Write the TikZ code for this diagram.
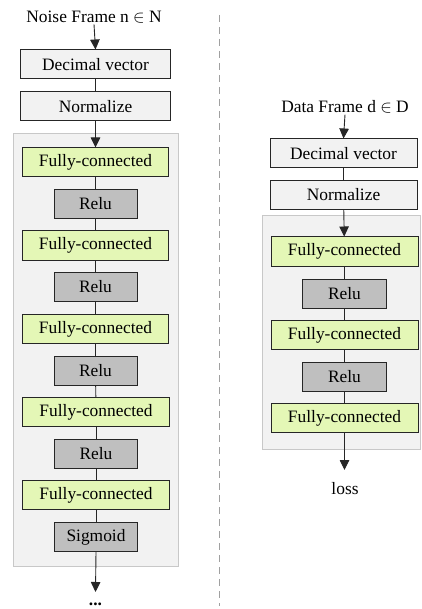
\documentclass[tikz,border=0pt]{standalone}
\usepackage{fontspec}
\setmainfont{Liberation Serif}
\usetikzlibrary{arrows.meta}
\definecolor{bgfill}{HTML}{F2F2F2}
\definecolor{bgline}{HTML}{C8C8C8}
\definecolor{fcfill}{HTML}{E4F7B6}
\definecolor{relufill}{HTML}{BFBFBF}
\definecolor{boxline}{HTML}{262626}
\definecolor{sepline}{HTML}{A0A0A0}
\tikzset{
  txt/.style={font=\fontsize{17.4}{20}\selectfont},
  basebox/.style={txt, draw=boxline, line width=1pt, inner sep=0pt, minimum height=29pt},
  plainbox/.style={basebox, fill=bgfill, minimum width=150pt},
  fcbox/.style={basebox, fill=fcfill, minimum width=146pt},
  relubox/.style={basebox, fill=relufill, minimum width=83pt},
  panel/.style={fill=bgfill, draw=bgline, line width=0.8pt},
  link/.style={draw=boxline, line width=0.9pt},
  arr/.style={link, -{Triangle[length=10pt,width=9.5pt]}},
}
\begin{document}
\begin{tikzpicture}[x=1pt,y=-1pt]
\useasboundingbox (0,0) rectangle (421,609);
% panels
\path[panel] (13,133) rectangle (178,566);
\path[panel] (262,215) rectangle (420,449);
% separator
\draw[sepline, line width=1pt, dash pattern=on 7pt off 5pt] (219,15) -- (219,606);
% ---------- left column ----------
\node[txt, inner sep=1pt] (ltitle) at (94,17) {Noise Frame n \ensuremath{\in} N};
\node[plainbox] (ldv) at (95.5,64.5) {Decimal vector};
\node[plainbox] (lnorm) at (95.5,106.5) {Normalize};
\node[fcbox] (lfc1) at (95.5,162.5) {Fully-connected};
\node[relubox] (lr1) at (95.5,204) {Relu};
\node[fcbox] (lfc2) at (95.5,245.5) {Fully-connected};
\node[relubox] (lr2) at (95.5,287) {Relu};
\node[fcbox] (lfc3) at (95.5,329) {Fully-connected};
\node[relubox] (lr3) at (95.5,370.5) {Relu};
\node[fcbox, minimum width=147pt] (lfc4) at (96,412) {Fully-connected};
\node[relubox] (lr4) at (96,453.5) {Relu};
\node[fcbox, minimum width=147pt] (lfc5) at (96,495) {Fully-connected};
\node[relubox] (lsig) at (96,537) {Sigmoid};
\coordinate (lend) at (95.5,592);
\node[txt, inner sep=0pt] (ldots) at (95.5,604) {\textbf{...}};
\draw[arr] (ltitle.south) -- (ldv.north);
\draw[link] (ldv) -- (lnorm);
\draw[arr] (lnorm) -- (lfc1);
\draw[link] (lfc1) -- (lr1);
\draw[link] (lr1) -- (lfc2);
\draw[link] (lfc2) -- (lr2);
\draw[link] (lr2) -- (lfc3);
\draw[link] (lfc3) -- (lr3);
\draw[link] (lr3) -- (lfc4);
\draw[link] (lfc4) -- (lr4);
\draw[link] (lr4) -- (lfc5);
\draw[link] (lfc5) -- (lsig);
\draw[arr] (lsig.south) -- (lend);
% ---------- right column ----------
\node[txt, inner sep=1pt] (rtitle) at (345,107) {Data Frame d \ensuremath{\in} D};
\node[plainbox, minimum width=147pt] (rdv) at (343.5,153.5) {Decimal vector};
\node[plainbox, minimum width=147pt] (rnorm) at (343.5,195) {Normalize};
\node[fcbox, minimum width=147pt] (rfc1) at (344.5,251.5) {Fully-connected};
\node[relubox, minimum width=84pt] (rr1) at (344.5,293.5) {Relu};
\node[fcbox, minimum width=147pt] (rfc2) at (344.5,335) {Fully-connected};
\node[relubox, minimum width=84pt] (rr2) at (344.5,376.5) {Relu};
\node[fcbox, minimum width=147pt] (rfc3) at (344.5,418) {Fully-connected};
\coordinate (rend) at (344.5,470);
\node[txt, inner sep=0pt] (rloss) at (345,489) {loss};
\draw[arr] (rtitle.south) -- (rdv.north);
\draw[link] (rdv) -- (rnorm);
\draw[arr] (rnorm) -- (rfc1);
\draw[link] (rfc1) -- (rr1);
\draw[link] (rr1) -- (rfc2);
\draw[link] (rfc2) -- (rr2);
\draw[link] (rr2) -- (rfc3);
\draw[arr] (rfc3.south) -- (rend);
\end{tikzpicture}
\end{document}
